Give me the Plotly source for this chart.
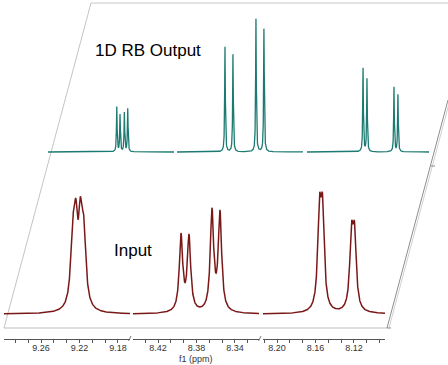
import numpy as np
import plotly.graph_objects as go

# ---------------- data ----------------
# chemical-shift windows shown (ppm, left -> right)
SEG_LEFT = [9.2985, 8.446, 8.2146]
SEG_RIGHT = [9.1675, 8.315, 8.0877]
TICK_VALS = [[9.26, 9.22, 9.18], [8.42, 8.38, 8.34], [8.20, 8.16, 8.12]]
TICK_LABELS = [["9.26", "9.22", "9.18"], ["8.42", "8.38", "8.34"], ["8.20", "8.16", "8.12"]]

# Input spectrum (broad lines): component positions (ppm), amplitudes (a.u.), half-widths (ppm)
input_ppm = [9.2270, 9.2238, 9.2192, 9.2156,
             8.3961, 8.3878, 8.3639, 8.3556,
             8.1559, 8.1527, 8.1226, 8.1194]
input_amp = [64.5, 69, 73.7, 69,
             75.9, 74.3, 99.5, 97.7,
             91.8, 91.8, 70.4, 70.4]
input_hwhm = [0.0026, 0.0023, 0.0023, 0.0026,
              0.0021, 0.0021, 0.0021, 0.0021,
              0.0021, 0.0021, 0.0021, 0.0021]

# 1D RB Output spectrum (sharp lines)
output_ppm = [9.2270, 9.2236, 9.2191, 9.2156,
              8.3961, 8.3878, 8.3639, 8.3556,
              8.1563, 8.1522, 8.1241, 8.1200]
output_amp = [45, 37, 39, 43,
              105, 98, 133, 124,
              84, 73, 65, 57]
output_hwhm = [0.0004] * 12

# ---------------- helpers ----------------
W, H = 448, 365


def px(x):
    return x / W


def py(y):
    return 1 - y / H


def spectrum(grid, centers, amps, hwhm):
    g = np.asarray(grid)[:, None]
    c = np.asarray(centers)[None, :]
    a = np.asarray(amps)[None, :]
    w = np.asarray(hwhm)[None, :]
    return (a * w ** 2 / ((g - c) ** 2 + w ** 2)).sum(axis=1)


RED = "#7a1818"
TEAL = "#1c7a72"
FONT = "Liberation Sans, Arial, sans-serif"
AXFONT = "Liberation Sans Narrow, Arial Narrow, Liberation Sans, sans-serif"

# pixel placement of the segments (bottom trace); top trace shifted by the oblique offset
bottom_dom = [(4, 130), (133, 259), (263, 385)]
shift = 44
top_dom = [(a + shift, b + shift) for a, b in bottom_dom]

fig = go.Figure()

for i in range(3):
    grid = np.linspace(SEG_LEFT[i], SEG_RIGHT[i], 1600)
    xa = "x" if i == 0 else f"x{i + 1}"
    fig.add_trace(go.Scatter(
        x=grid, y=spectrum(grid, input_ppm, input_amp, input_hwhm),
        mode="lines", line=dict(color=RED, width=1.5),
        xaxis=xa, yaxis="y", hoverinfo="skip", showlegend=False))
    fig.add_trace(go.Scatter(
        x=grid, y=spectrum(grid, output_ppm, output_amp, output_hwhm),
        mode="lines", line=dict(color=TEAL, width=1.3),
        xaxis=f"x{i + 4}", yaxis="y2", hoverinfo="skip", showlegend=False))

layout = dict(
    width=W, height=H,
    margin=dict(l=0, r=0, t=0, b=0),
    paper_bgcolor="white", plot_bgcolor="rgba(0,0,0,0)",
    font=dict(family=FONT, color="#333"),
    showlegend=False,
    template="none",
)

for i in range(3):
    key = "xaxis" if i == 0 else f"xaxis{i + 1}"
    minor_vals = []
    step = 0.04 / 3
    t0 = TICK_VALS[i][0]
    for k in range(-6, 15):
        v = t0 - k * step
        if SEG_RIGHT[i] <= v <= SEG_LEFT[i]:
            minor_vals.append(round(v, 5))
    layout[key] = dict(
        domain=[px(bottom_dom[i][0]), px(bottom_dom[i][1])],
        range=[SEG_LEFT[i], SEG_RIGHT[i]],
        anchor="free", position=py(339),
        showline=True, linecolor="#555", linewidth=1,
        showgrid=False, zeroline=False,
        ticks="outside", ticklen=3, tickcolor="#555", tickwidth=1,
        tickmode="array", tickvals=TICK_VALS[i], ticktext=TICK_LABELS[i],
        ticklabelstandoff=-3,
        tickfont=dict(family=AXFONT, size=9, color="#333"),
        minor=dict(tickmode="array", tickvals=minor_vals, ticks="outside",
                   ticklen=3, tickcolor="#555", showgrid=False),
    )
    key2 = f"xaxis{i + 4}"
    layout[key2] = dict(
        domain=[px(top_dom[i][0]), px(top_dom[i][1])],
        range=[SEG_LEFT[i], SEG_RIGHT[i]],
        anchor="y2", visible=False, showgrid=False, zeroline=False,
    )

layout["yaxis"] = dict(domain=[py(317), py(174)], range=[-3, 140], anchor="x",
                       visible=False, showgrid=False, zeroline=False)
layout["yaxis2"] = dict(domain=[py(155), py(2)], range=[-3, 150], anchor="x4",
                        visible=False, showgrid=False, zeroline=False)


def seg(x0, y0, x1, y1, color, width=1):
    return dict(type="line", xref="paper", yref="paper",
                x0=px(x0), y0=py(y0), x1=px(x1), y1=py(y1),
                line=dict(color=color, width=width), layer="below")


shapes = [
    seg(91, 3, 448, 3, "#c8c8c8"),           # top edge
    seg(91, 3, 4, 328, "#c4c4c4"),           # left edge
    seg(4, 328, 387, 328, "#bdbdbd"),        # bottom edge
    seg(387, 328, 448, 100, "#8c8c8c"),      # right edge
    seg(389, 328, 450, 100, "#d0d0d0"),      # right edge shadow
    seg(387, 328, 391, 328, "#8c8c8c"),
    seg(431, 166, 435, 166, "#8c8c8c"),
    # axis break marks
    seg(128.5, 341, 131, 336, "#777"),
    seg(258.5, 341, 261, 336, "#777"),
]
layout["shapes"] = shapes

layout["annotations"] = [
    dict(text="1D RB Output", x=px(148), y=py(51), xref="paper", yref="paper",
         showarrow=False, xanchor="center", yanchor="middle",
         font=dict(family=FONT, size=17, color="black")),
    dict(text="Input", x=px(133), y=py(251), xref="paper", yref="paper",
         showarrow=False, xanchor="center", yanchor="middle",
         font=dict(family=FONT, size=17, color="black")),
    dict(text="f1 (ppm)", x=px(196), y=py(359), xref="paper", yref="paper",
         showarrow=False, xanchor="center", yanchor="middle",
         font=dict(family=AXFONT, size=9, color="#333")),
]

fig.update_layout(**layout)

fig.write_html("out.html", config=dict(displayModeBar=False),
               post_script="document.body.style.margin='0';")
